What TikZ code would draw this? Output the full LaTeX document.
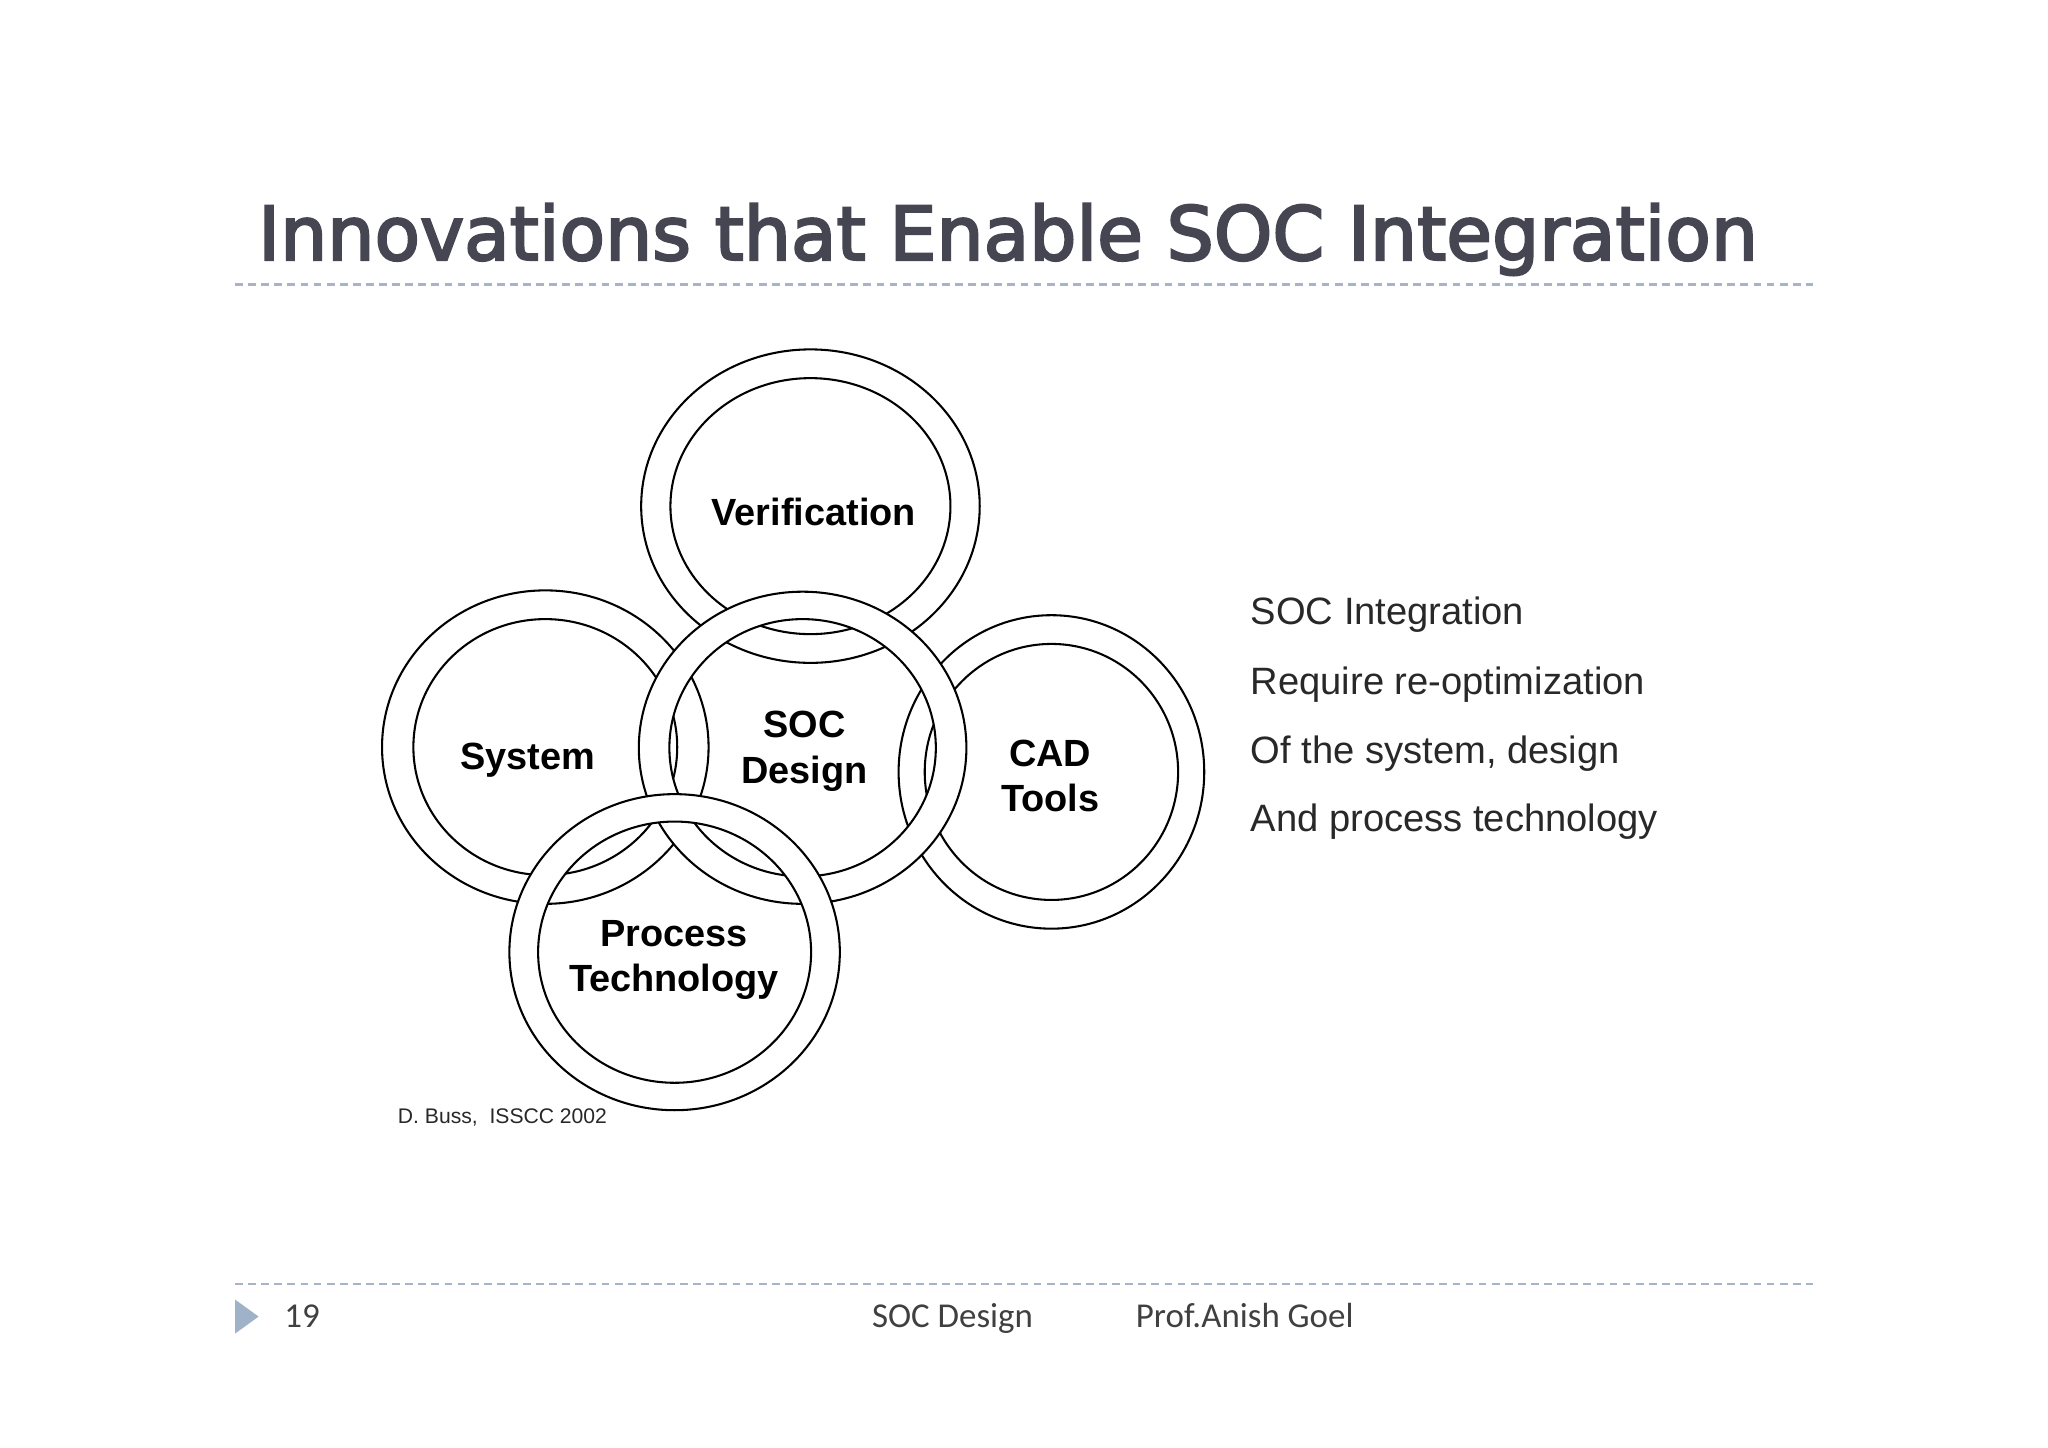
\documentclass[tikz,border=0pt]{standalone}
\usepackage{fontspec}
\setmainfont{Liberation Sans}
\newfontfamily\titlefont[FakeBold=3]{DejaVu Sans}
\newfontfamily\footfont{Carlito}
\definecolor{titlegray}{RGB}{70,70,82}
\definecolor{dashblue}{RGB}{165,180,200}
\definecolor{triblue}{RGB}{160,178,200}
\definecolor{bodygray}{RGB}{40,40,40}
\definecolor{footgray}{RGB}{64,64,64}
\newcommand\ringshape[5]{%
  \fill[white,even odd rule] #1 ellipse[x radius=#2,y radius=#3] #1 ellipse[x radius=#4,y radius=#5];
  \draw[ringline] #1 ellipse[x radius=#2,y radius=#3] #1 ellipse[x radius=#4,y radius=#5];}
\tikzset{
  ringline/.style={black,line width=0.45pt},
  ringlabel/.style={font=\bfseries\fontsize{8.25}{9.96}\selectfont,align=center,inner sep=0pt,text=black},
  sidetext/.style={font=\fontsize{8.3}{10}\selectfont,anchor=base west,inner sep=0pt,text=bodygray},
  foottext/.style={font=\footfont\fontsize{7.6}{9}\selectfont,anchor=base west,inner sep=0pt,text=footgray},
  dashline/.style={dashblue,line width=0.55pt,dash pattern=on 1.7pt off 1.15pt}
}
\begin{document}
\begin{tikzpicture}[x=0.01cm,y=-0.01cm]
\useasboundingbox[fill=white] (0,0) rectangle (1568,1108);

% title
\node[anchor=base west,inner sep=0pt,text=titlegray,font=\titlefont\fontsize{16.2}{19}\selectfont] (title) at (197,199) {Innovations that Enable SOC Integration};
\draw[dashline] (180,218) -- (1388,218);

% ring centres
\coordinate (cver) at (620.5,387.5);
\coordinate (csys) at (417.5,572);
\coordinate (ccad) at (805,591);
\coordinate (csoc) at (614.5,572.5);
\coordinate (cpro) at (516.5,729);

\ringshape{(cver)}{129.6}{120}{107.2}{98}
\ringshape{(csys)}{125}{120}{101}{98}
\ringshape{(ccad)}{117}{120}{97}{98}
\ringshape{(csoc)}{125.4}{119.5}{102}{98.5}
\ringshape{(cpro)}{126.5}{121}{104.5}{100}

\node[ringlabel] (lver) at (623,392) {Verification};
\node[ringlabel] (lsys) at (404,582) {System};
\node[ringlabel] (lsoc) at (616,575) {SOC\\Design};
\node[ringlabel] (lcad) at (804,594) {CAD\\Tools};
\node[ringlabel] (lpro) at (516,735) {Process\\Technology};

\node[font=\fontsize{4.6}{5}\selectfont,anchor=base west,inner sep=0pt,text=bodygray] (cite) at (304,860) {D. Buss,\ \ ISSCC 2002};

% side text
\node[sidetext] (s1) at (957,478.5) {SOC Integration};
\node[sidetext] (s2) at (957,531.5) {Require re-optimization};
\node[sidetext] (s3) at (957,584.5) {Of the system, design};
\node[sidetext] (s4) at (957,636.5) {And process technology};

% footer
\draw[dashline] (180,983) -- (1388,983);
\fill[triblue] (180,995) -- (198,1008) -- (180,1021) -- cycle;
\node[foottext] (pg) at (217,1016) {19};
\node[foottext] (f1) at (667,1016) {SOC Design};
\node[foottext] (f2) at (869,1016) {Prof.Anish Goel};
\end{tikzpicture}
\end{document}
